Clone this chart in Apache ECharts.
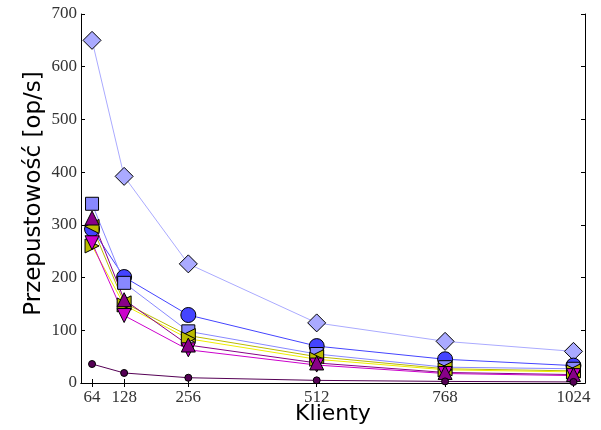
<!DOCTYPE html>
<html>
<head>
<meta charset="utf-8">
<script src="https://cdn.jsdelivr.net/npm/echarts@6/dist/echarts.min.js"></script>
<style>
  html, body { margin: 0; padding: 0; background: #fff; }
  #chart { width: 601px; height: 430px; }
</style>
</head>
<body>
<div id="chart"></div>
<script>
// liczba klientów
const clients = [64, 128, 256, 512, 768, 1024];
const yTicks = [0, 100, 200, 300, 400, 500, 600, 700];

// przepustowość [op/s]
const sDiamond = [650, 392, 226, 114, 79, 60];
const sCircle = [292, 201, 129, 70, 45, 33];
const sSquare = [340, 190, 98, 55, 30, 27];
const sLeftTri = [297, 152, 90, 50, 27, 23];
const sRightTri = [260, 148, 84, 45, 25, 21];
const sDownTri = [266, 128, 63, 34, 18, 14];
const sUpTri = [313, 158, 72, 38, 20, 16];
const sDot = [36, 19, 10, 5, 3, 2];

const chart = echarts.init(document.getElementById('chart'));

function pairs(vals) {
  return clients.map((c, i) => [c, vals[i]]);
}

function mk(vals, lineColor, fill, symbol, size, rotate) {
  return {
    type: 'line',
    data: pairs(vals),
    symbol: symbol,
    symbolSize: size,
    symbolRotate: rotate || 0,
    showAllSymbol: true,
    lineStyle: { color: lineColor, width: 1 },
    itemStyle: { color: fill, borderColor: '#000', borderWidth: 1 },
    emphasis: { disabled: true },
    animation: false
  };
}

const serif = 'Liberation Serif';
const tickFont = { fontFamily: serif, fontSize: 17, color: '#333' };
const plain = (v) => String(v);

const option = {
  animation: false,
  grid: { left: 81, right: 16, top: 14, bottom: 47, outerBoundsMode: 'none' },
  xAxis: [
    {
      type: 'value',
      min: 42,
      max: 1047,
      name: 'Klienty',
      nameLocation: 'middle',
      nameGap: 20,
      nameMoveOverlap: false,
      nameTextStyle: { fontFamily: 'DejaVu Sans', fontSize: 22, color: '#000' },
      axisLine: { lineStyle: { color: '#000', width: 1 } },
      axisTick: { inside: true, length: 4, customValues: clients, lineStyle: { color: '#000' } },
      axisLabel: { customValues: clients, margin: 6, formatter: plain, ...tickFont },
      splitLine: { show: false }
    },
    {
      type: 'value',
      position: 'top',
      min: 42,
      max: 1047,
      axisLine: { show: true, lineStyle: { color: '#000', width: 1 } },
      axisTick: { inside: true, length: 4, customValues: clients, lineStyle: { color: '#000' } },
      axisLabel: { show: false },
      splitLine: { show: false }
    }
  ],
  yAxis: [
    {
      type: 'value',
      min: 0,
      max: 700,
      interval: 100,
      name: 'Przepustowość [op/s]',
      nameLocation: 'middle',
      nameGap: 35,
      nameMoveOverlap: false,
      nameTextStyle: { fontFamily: 'DejaVu Sans', fontSize: 23, color: '#000', padding: [0, 0, 0, 10] },
      axisLine: { show: true, lineStyle: { color: '#000', width: 1 } },
      axisTick: { inside: true, length: 4, lineStyle: { color: '#000' } },
      axisLabel: { margin: 4, formatter: plain, ...tickFont },
      splitLine: { show: false }
    },
    {
      type: 'value',
      position: 'right',
      min: 0,
      max: 700,
      interval: 100,
      axisLine: { show: true, lineStyle: { color: '#000', width: 1 } },
      axisTick: { inside: true, length: 4, lineStyle: { color: '#000' } },
      axisLabel: { show: false },
      splitLine: { show: false }
    }
  ],
  series: [
    mk(sDiamond, '#aaaaff', '#aaaaff', 'diamond', [18, 18]),
    mk(sCircle, '#4444ff', '#4444ff', 'circle', 15),
    mk(sSquare, '#8888ff', '#8888ff', 'rect', 13),
    mk(sLeftTri, '#bbbb00', '#bbbb00', 'triangle', 14, 90),
    mk(sRightTri, '#eeee00', '#bbbb00', 'triangle', 14, -90),
    mk(sDownTri, '#cc00cc', '#cc00cc', 'triangle', 14, 180),
    mk(sUpTri, '#880088', '#880088', 'triangle', 14),
    mk(sDot, '#550055', '#550055', 'circle', 7)
  ]
};

chart.setOption(option);
</script>
</body>
</html>
